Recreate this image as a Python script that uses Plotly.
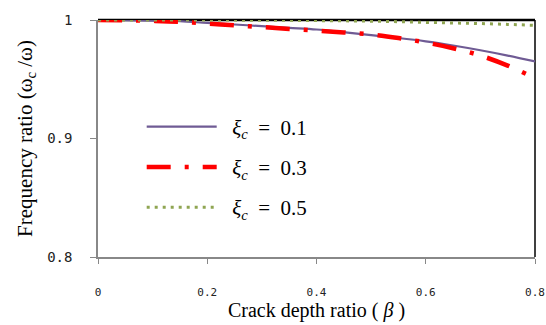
import plotly.graph_objects as go

beta = [0, 0.05, 0.1, 0.15, 0.2, 0.25, 0.3, 0.35, 0.4, 0.45, 0.5, 0.55, 0.6, 0.65, 0.7, 0.75, 0.8]
ratio_01 = [1.0, 0.9999, 0.9995, 0.999, 0.9975, 0.9962, 0.9948, 0.9934, 0.992, 0.9897, 0.9872, 0.9848, 0.982, 0.9785, 0.9745, 0.970, 0.965]
ratio_03 = [1.0, 0.9998, 0.9993, 0.9985, 0.997, 0.9955, 0.994, 0.9925, 0.991, 0.9895, 0.9878, 0.9848, 0.981, 0.9762, 0.970, 0.9615, 0.951]
ratio_05 = [1.0, 1.0, 1.0, 1.0, 1.0, 0.9999, 0.9998, 0.9997, 0.9995, 0.9993, 0.999, 0.9986, 0.998, 0.9975, 0.997, 0.9963, 0.9955]
names = ["\u00a0\u00a0<i>ξ</i><sub><i>c</i></sub>  =  0.1", "\u00a0\u00a0<i>ξ</i><sub><i>c</i></sub>  =  0.3", "\u00a0\u00a0<i>ξ</i><sub><i>c</i></sub>  =  0.5"]
x_ticks = [0, 0.2, 0.4, 0.6, 0.8]
x_ticktext = ["0", "0.2", "0.4", "0.6", "0.8"]
y_ticks = [0.8, 0.9, 1.0]
y_ticktext = ["0.8", "0.9", "1"]

fig = go.Figure()
fig.add_trace(go.Scatter(x=beta, y=ratio_01, mode="lines", name=names[0], legendgroup="a",
                         line=dict(color="#6f5b94", width=2.2, shape="spline")))
fig.add_trace(go.Scatter(x=beta, y=ratio_03, mode="lines", name=names[1], legendgroup="b",
                         line=dict(color="#ff0000", width=4.5, dash="24px,14px,4px,14px", shape="spline")))
fig.add_trace(go.Scatter(x=beta, y=ratio_05, mode="lines", name=names[2], legendgroup="c",
                         line=dict(color="#8fa552", width=3, dash="3px,5px", shape="spline")))

fig.add_shape(type="line", xref="paper", yref="paper", x0=0, x1=1, y0=1, y1=1,
              line=dict(color="black", width=2.5), layer="below")
fig.add_shape(type="line", xref="paper", yref="paper", x0=1, x1=1, y0=0, y1=1,
              line=dict(color="black", width=1.5), layer="below")

fig.update_layout(
    width=546, height=325,
    margin=dict(l=98, r=11, t=20, b=68),
    paper_bgcolor="white", plot_bgcolor="white",
    font=dict(family="Liberation Serif", color="black"),
    legend=dict(x=0.1, y=0.635, xanchor="left", yanchor="top", bgcolor="rgba(0,0,0,0)",
                font=dict(family="Liberation Serif", size=21), itemwidth=70, tracegroupgap=10),
    xaxis=dict(range=[0, 0.8], tickvals=x_ticks, ticktext=x_ticktext, automargin=False,
               showgrid=False, zeroline=False, showline=True, linecolor="#888888", linewidth=1.5,
               ticks="outside", tickcolor="#888888", ticklen=5, ticklabelstandoff=19,
               ticklabeloverflow="allow",
               tickfont=dict(family="DejaVu Sans Mono", size=11, color="#222222"),
               title=dict(text="Crack depth ratio ( <i>β</i> )", font=dict(size=20), standoff=4)),
    yaxis=dict(range=[0.8, 1.0], tickvals=y_ticks, ticktext=y_ticktext, automargin=False,
               showgrid=False, zeroline=False, showline=True, linecolor="#888888", linewidth=1.5,
               ticks="outside", tickcolor="#888888", ticklen=6, ticklabelstandoff=15,
               tickfont=dict(family="DejaVu Sans Mono", size=14, color="#222222"),
               title=dict(text="Frequency ratio (ω<sub>c</sub> /ω)", font=dict(size=21), standoff=9)),
)
fig.write_html("out.html", config={"displayModeBar": False},
               post_script="document.body.style.margin='0';document.body.style.overflow='hidden';")
